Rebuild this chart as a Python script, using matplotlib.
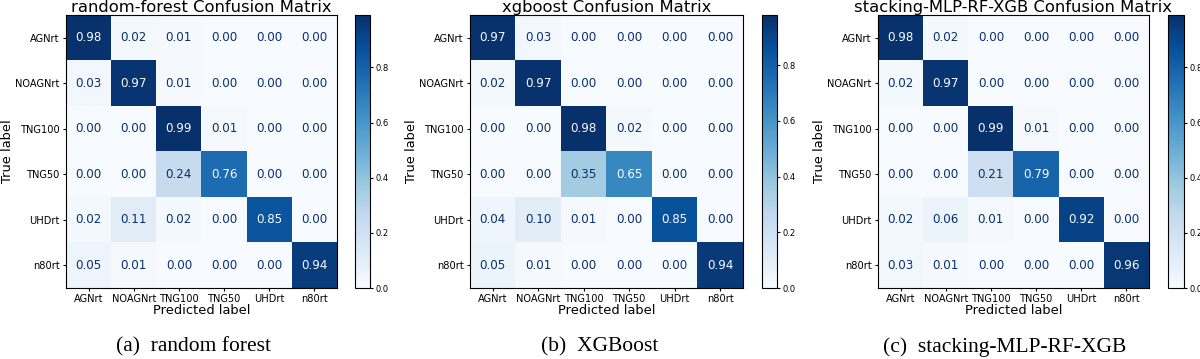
import numpy as np
import matplotlib.pyplot as plt

labels = ['AGNrt', 'NOAGNrt', 'TNG100', 'TNG50', 'UHDrt', 'n80rt']

cm_rf = [[0.98, 0.02, 0.01, 0.00, 0.00, 0.00],
         [0.03, 0.97, 0.01, 0.00, 0.00, 0.00],
         [0.00, 0.00, 0.99, 0.01, 0.00, 0.00],
         [0.00, 0.00, 0.24, 0.76, 0.00, 0.00],
         [0.02, 0.11, 0.02, 0.00, 0.85, 0.00],
         [0.05, 0.01, 0.00, 0.00, 0.00, 0.94]]

cm_xgb = [[0.97, 0.03, 0.00, 0.00, 0.00, 0.00],
          [0.02, 0.97, 0.00, 0.00, 0.00, 0.00],
          [0.00, 0.00, 0.98, 0.02, 0.00, 0.00],
          [0.00, 0.00, 0.35, 0.65, 0.00, 0.00],
          [0.04, 0.10, 0.01, 0.00, 0.85, 0.00],
          [0.05, 0.01, 0.00, 0.00, 0.00, 0.94]]

cm_stack = [[0.98, 0.02, 0.00, 0.00, 0.00, 0.00],
            [0.02, 0.97, 0.00, 0.00, 0.00, 0.00],
            [0.00, 0.00, 0.99, 0.01, 0.00, 0.00],
            [0.00, 0.00, 0.21, 0.79, 0.00, 0.00],
            [0.02, 0.06, 0.01, 0.00, 0.92, 0.00],
            [0.03, 0.01, 0.00, 0.00, 0.00, 0.96]]

titles = ['random-forest Confusion Matrix', 'xgboost Confusion Matrix',
          'stacking-MLP-RF-XGB Confusion Matrix']
captions = ['(a)  random forest', '(b)  XGBoost', '(c)  stacking-MLP-RF-XGB']

W, H = 1200, 359
fig = plt.figure(figsize=(12, 3.59), dpi=100)

# pixel boxes: axes left/right, colorbar left/right, caption centre
boxes = [(66, 337, 355, 370, 193), (470, 743, 762, 777, 600),
         (878, 1149, 1168, 1184, 1005)]
top, bottom = 15, 288

cmap = plt.cm.Blues
for k, cm in enumerate([cm_rf, cm_xgb, cm_stack]):
    cm = np.array(cm)
    l, r, cl, cr, capx = boxes[k]
    ax = fig.add_axes([l / W, 1 - bottom / H, (r - l) / W, (bottom - top) / H])
    cax = fig.add_axes([cl / W, 1 - bottom / H, (cr - cl) / W, (bottom - top) / H])
    im = ax.imshow(cm, cmap=cmap, aspect='auto', interpolation='nearest',
                   vmin=cm.min(), vmax=cm.max())
    thresh = (cm.max() + cm.min()) / 2
    for i in range(cm.shape[0]):
        for j in range(cm.shape[1]):
            c = cmap(0.0) if cm[i, j] > thresh else cmap(1.0)
            ax.text(j, i, f'{cm[i, j]:.2f}', ha='center', va='center',
                    color=c, fontsize=8.6)
    ax.set_xticks(range(len(labels)))
    ax.set_xticklabels(labels, fontsize=7.1)
    ax.set_yticks(range(len(labels)))
    ax.set_yticklabels(labels, fontsize=7.1)
    ax.tick_params(length=2.5, pad=2)
    ax.set_xlabel('Predicted label', fontsize=9.4, labelpad=0)
    ax.set_ylabel('True label', fontsize=9.4, labelpad=1)
    ax.set_title(titles[k], fontsize=11.8, pad=2)
    cb = fig.colorbar(im, cax=cax)
    cb.set_ticks([0.0, 0.2, 0.4, 0.6, 0.8])
    cb.ax.tick_params(labelsize=6, length=2, pad=2)
    fig.text(capx / W, 1 - 347 / H, captions[k], ha='center', va='center',
             fontsize=15.5, family='Liberation Serif')

fig.savefig('out.png', dpi=100)
